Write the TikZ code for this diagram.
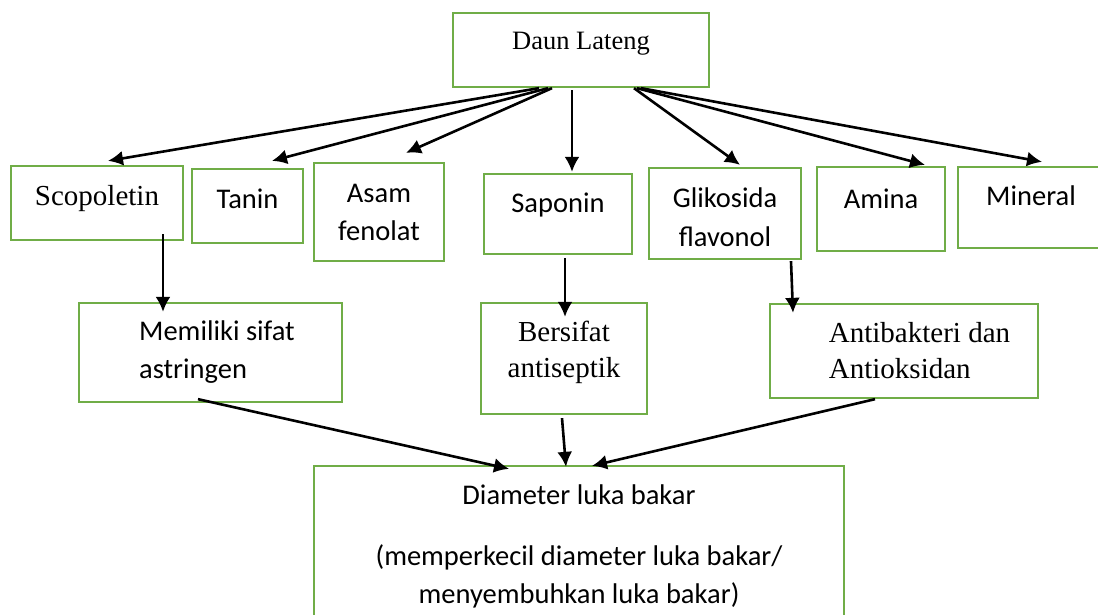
\documentclass[tikz,border=0pt]{standalone}
\usepackage{fontspec}
\setmainfont{Liberation Serif}
\newfontfamily\calibri{Carlito}
\usetikzlibrary{arrows.meta}
\usetikzlibrary{calc}

\definecolor{boxgreen}{RGB}{112,173,71}

\tikzset{
  box/.style = {draw=boxgreen, line width=2.3pt, inner sep=0pt, fill=white},
  sans/.style = {font=\calibri\fontsize{28.5}{38}\selectfont},
  serif/.style = {font=\fontsize{29}{36}\selectfont},
  textrow/.style 2 args = {text height=#1pt, text depth=#2pt},
  link/.style = {-{Latex[length=15pt,width=15pt]}, line width=2.6pt}
}

\begin{document}
\begin{tikzpicture}[x=1pt, y=-1pt]
  \fill[white] (0,0) rectangle (1098,614);
  \useasboundingbox (0,0) rectangle (1098,614);

	% top
	\node[box, serif, font=\fontsize{26.5}{32}\selectfont, textrow={36}{38}, minimum width=256pt] (dl) at (581,50) {Daun Lateng};

	% compounds
	\node[box, serif, textrow={39}{35}, minimum width=172pt] (scop) at (97,203) {Scopoletin};
	\node[box, sans, textrow={39}{35}, minimum width=111pt] (tan) at (247.5,206) {Tanin};
	\node[box, sans, align=center, minimum width=130pt, minimum height=98pt] (asam) at (379,212) {Asam\\fenolat};
	\node[box, sans, textrow={38}{42}, minimum width=148pt] (sap) at (558,214) {Saponin};
	\node[box, sans, font=\calibri\fontsize{28.5}{39}\selectfont, align=center, textrow={78}{13}, minimum width=152pt] (gli) at (725,213.5) {Glikosida\\flavonol};
	\node[box, sans, textrow={41}{43}, minimum width=128pt] (ami) at (881,209) {Amina};
	\node[box, sans, textrow={38}{43}, minimum width=146pt] (min) at (1031,207.5) {Mineral};

	% effects
	\node[box, sans, align=left, minimum width=263pt, minimum height=99pt] (mem) at (210.5,352.5) {\hspace*{13pt}Memiliki sifat\\\hspace*{13pt}astringen};
	\node[box, serif, align=center, textrow={74}{37}, minimum width=166pt] (ber) at (564,358.5) {Bersifat\\antiseptik};
	\node[box, serif, align=left, minimum width=268pt, minimum height=94pt] (anti) at (904,351) {\hspace*{31pt}Antibakteri dan\\\hspace*{31pt}Antioksidan};

	% result
	\node[box, sans, align=center, minimum width=530pt, minimum height=161.5pt] (diam) at (579,546.75) {Diameter luka bakar\\[23pt](memperkecil diameter luka bakar/\\menyembuhkan luka bakar)};

	\draw[link] ($(dl.south)+(-42,0)$) -- ($(scop.north)+(11,-4)$);
	\draw[link] ($(dl.south)+(-33,0)$) -- ($(tan.north)+(24.5,-7)$);
	\draw[link] ($(dl.south)+(-29,0)$) -- ($(asam.north)+(27,-9)$);
	\draw[link] ($(dl.south)+(-9,2)$) -- ($(sap.north)+(14,-1)$);
	\draw[link] ($(dl.south)+(53,0)$) -- ($(gli.north)+(15,-2)$);
	\draw[link] ($(dl.south)+(56,0)$) -- ($(ami.north)+(44,-1)$);
	\draw[link] ($(dl.south)+(60,0)$) -- ($(min.north)+(11,-4)$);

	\draw[link] ($(scop.south)+(66,-7)$) -- ($(mem.north)+(-47.5,10)$);
	\draw[link] ($(sap.south)+(7,3)$) -- ($(ber.north)+(1,15)$);
	\draw[link] ($(gli.south)+(66,1)$) -- ($(anti.north)+(-111,10)$);

	\draw[link] ($(mem.south)+(-12.5,-4)$) -- ($(diam.north)+(-70,4)$);
	\draw[link] ($(ber.south)+(-2,3)$) -- ($(diam.north)+(-13,2)$);
	\draw[link] ($(anti.south)+(-29,0)$) -- ($(diam.north)+(13,1)$);

\end{tikzpicture}
\end{document}
